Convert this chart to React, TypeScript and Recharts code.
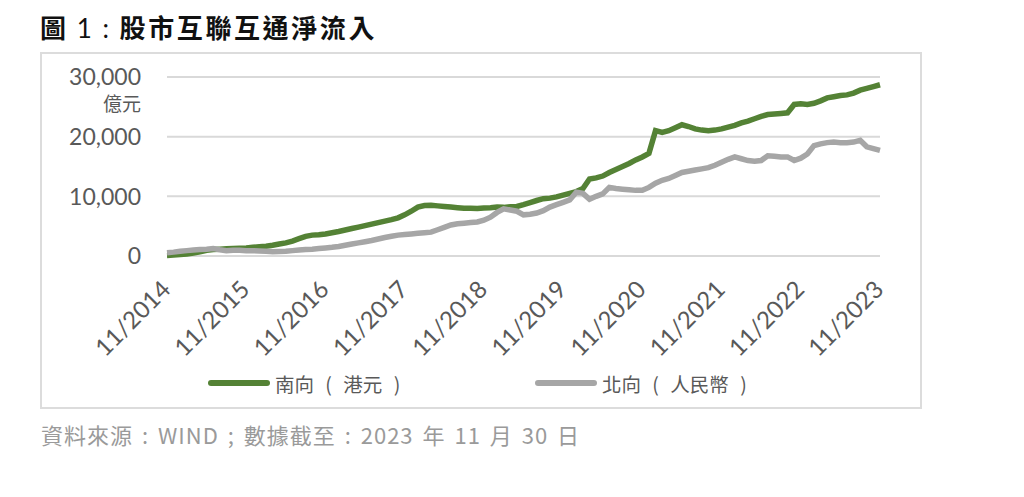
import React from "react"
import { LineChart, Line, XAxis, YAxis, CartesianGrid } from "recharts"

// monthly, 11/2014 .. 11/2023 (億元)
const southbound = [
  100, 150, 250, 350, 500, 700, 950, 1100, 1150, 1200, 1250, 1300,
  1350, 1450, 1550, 1650, 1800, 2000, 2200, 2500, 2900, 3300, 3500, 3550,
  3700, 3900, 4100, 4350, 4600, 4850, 5100, 5350, 5600, 5850, 6100, 6400,
  6900, 7500, 8200, 8450, 8500, 8400, 8300, 8200, 8100, 8000, 8000, 7950,
  8050, 8100, 8200, 8150, 8250, 8300, 8600, 8950, 9300, 9600, 9700, 9900,
  10200, 10500, 10800, 11300, 12900, 13100, 13400, 14000, 14500, 15000, 15500, 16100,
  16600, 17200, 21000, 20700, 21000, 21500, 22000, 21700, 21300, 21100, 21000, 21100,
  21300, 21600, 21900, 22300, 22600, 23000, 23400, 23700, 23800, 23900, 24000, 25400,
  25500, 25400, 25600, 26000, 26500, 26700, 26900, 27000, 27300, 27800, 28100, 28400,
  28700,
]

const northbound = [
  550, 650, 800, 900, 1000, 1100, 1150, 1250, 1050, 900, 950, 950,
  900, 900, 850, 800, 720, 750, 800, 900, 1000, 1100, 1150, 1250,
  1350, 1450, 1600, 1800, 2000, 2200, 2400, 2600, 2850, 3100, 3300, 3500,
  3600, 3700, 3800, 3900, 4000, 4400, 4800, 5200, 5400, 5500, 5600, 5700,
  6000, 6500, 7300, 7900, 7700, 7500, 6900, 7000, 7200, 7600, 8200, 8600,
  9000, 9400, 10700, 10500, 9500, 10000, 10400, 11500, 11300, 11200, 11100, 11000,
  11000, 11500, 12200, 12700, 13000, 13500, 14000, 14200, 14400, 14600, 14800, 15200,
  15700, 16200, 16600, 16300, 16000, 15900, 16000, 16800, 16700, 16600, 16600, 16000,
  16400, 17100, 18500, 18800, 19000, 19100, 19000, 19000, 19100, 19400, 18300, 18000,
  17700,
]

const yearTicks = [
  "11/2014", "11/2015", "11/2016", "11/2017", "11/2018",
  "11/2019", "11/2020", "11/2021", "11/2022", "11/2023",
]
const valueTicks = [0, 10000, 20000, 30000]

const months: string[] = []
for (let i = 0; i < southbound.length; i++) {
  const m = ((10 + i) % 12) + 1
  const y = 2014 + Math.floor((10 + i) / 12)
  months.push(`${m}/${y}`)
}

const data = months.map((month, i) => ({
  month,
  south: southbound[i],
  north: northbound[i],
}))

const latin = "Lato, 'Noto Sans CJK TC', sans-serif"
const cjk = "'Noto Sans CJK TC', sans-serif"

function XTick({ x, payload }: any) {
  const ex = x + 5
  const ey = 291
  return (
    <text x={ex} y={ey} transform={`rotate(-45, ${ex}, ${ey})`} textAnchor="end"
      fill="#595959" fontSize={24} fontFamily={latin}>
      {payload.value}
    </text>
  )
}

function YTick({ x, y, payload }: any) {
  return (
    <g>
      <text x={x} y={y} dy="0.36em" textAnchor="end" fill="#595959" fontSize={23} fontFamily={latin}>
        {Number(payload.value).toLocaleString("en-US")}
      </text>
      {payload.value === 30000 && (
        <text x={x} y={y + 27} dy="0.36em" textAnchor="end" fill="#595959" fontSize={19} fontFamily={cjk}>
          億元
        </text>
      )}
    </g>
  )
}

const legendItems = [
  { label: "南向 ( 港元 )", color: "#548235", left: 208 },
  { label: "北向 ( 人民幣 )", color: "#a6a6a6", left: 535 },
]

export default function App() {
  return (
    <div style={{ position: "absolute", left: 0, top: 0, width: 1024, height: 497, background: "#fff" }}>
      <div style={{ position: "absolute", left: 40, top: 11, fontSize: 26, fontWeight: 700, color: "#111", fontFamily: cjk, whiteSpace: "pre", lineHeight: "32px" }}>
        <span>圖</span>
        <span style={{ fontWeight: 400, fontFamily: latin, wordSpacing: 4 }}> 1 : </span>
        <span style={{ letterSpacing: 2.6 }}>股市互聯互通淨流入</span>
      </div>
      <div style={{ position: "absolute", left: 40, top: 52, width: 878, height: 353, border: "2px solid #dcdcdc" }} />
      <div style={{ position: "absolute", left: 0, top: 0 }}>
        <LineChart width={1024} height={497} data={data} margin={{ top: 77, right: 144, bottom: 161, left: 67 }}>
          <CartesianGrid horizontal vertical={false} stroke="#d9d9d9" strokeWidth={2} />
          <XAxis dataKey="month" ticks={yearTicks} tick={<XTick />} tickLine={false} axisLine={false} height={80} interval={0} />
          <YAxis domain={[0, 30000]} ticks={valueTicks} tick={<YTick />} tickLine={false} axisLine={false} width={100} tickSize={0} tickMargin={26} />
          <Line type="linear" dataKey="south" stroke="#548235" strokeWidth={5.5} dot={false} isAnimationActive={false} />
          <Line type="linear" dataKey="north" stroke="#a6a6a6" strokeWidth={5.5} dot={false} isAnimationActive={false} />
        </LineChart>
      </div>
      {legendItems.map((it) => (
        <div key={it.label} style={{ position: "absolute", left: it.left, top: 369, height: 28, display: "flex", alignItems: "center" }}>
          <span style={{ display: "inline-block", width: 62, height: 6, borderRadius: 3, background: it.color }} />
          <span style={{ marginLeft: 5, fontSize: 19.5, color: "#595959", fontFamily: cjk, whiteSpace: "pre", wordSpacing: 7 }}>{it.label}</span>
        </div>
      ))}
      <div style={{ position: "absolute", left: 41, top: 418, fontSize: 22, color: "#9a9a9a", fontFamily: cjk, whiteSpace: "pre", letterSpacing: 1, wordSpacing: 3 }}>
        資料來源 : WIND ; 數據截至 : 2023 年 11 月 30 日
      </div>
    </div>
  )
}
